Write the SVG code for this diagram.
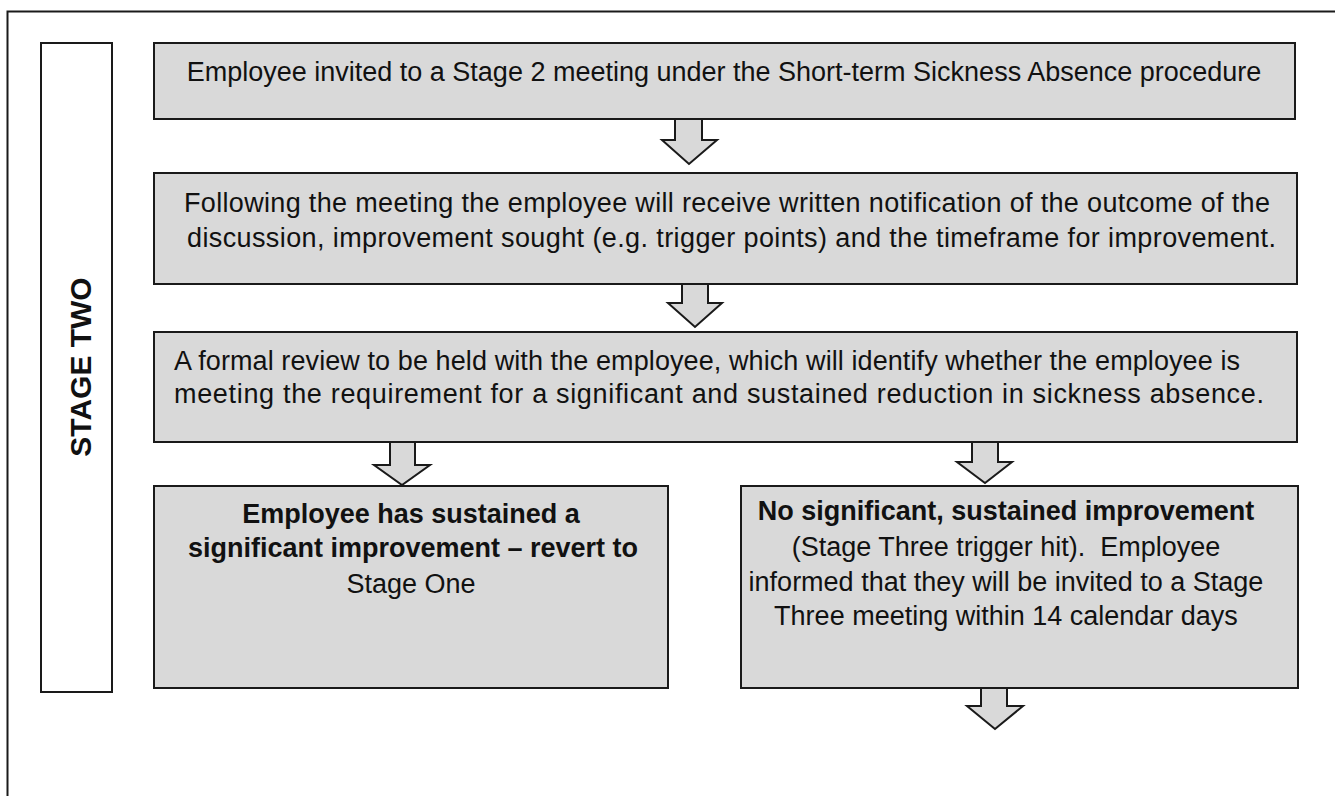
<svg xmlns="http://www.w3.org/2000/svg" width="1335" height="796" viewBox="0 0 1335 796">
<style>
.box{fill:#d9d9d9;stroke:#1a1a1a;stroke-width:2}
.frame{fill:none;stroke:#1a1a1a;stroke-width:2}
.arr{fill:#d9d9d9;stroke:#1a1a1a;stroke-width:2;stroke-linejoin:miter}
text{font-family:"Liberation Sans",Arial,sans-serif;font-size:27px;fill:#111}
.b{font-weight:bold}
.c{text-anchor:middle}
</style>
<rect width="1335" height="796" fill="#fff"/>
<rect class="frame" x="7.5" y="11.5" width="1400" height="900"/>
<g id="stage">
<rect class="frame" x="41" y="43" width="71" height="649"/>
<text class="b c" transform="translate(91,367) rotate(-90)" style="font-size:30px">STAGE TWO</text>
</g>
<g id="n1">
<rect class="box" x="154" y="43" width="1141" height="76"/>
<text class="c" x="724" y="81">Employee invited to a Stage 2 meeting under the Short-term Sickness Absence procedure</text>
</g>
<g id="n2">
<rect class="box" x="154" y="173" width="1143" height="111"/>
<text x="184" y="212" textLength="1086" lengthAdjust="spacing">Following the meeting the employee will receive written notification of the outcome of the</text>
<text x="187" y="247" textLength="1089" lengthAdjust="spacing">discussion, improvement sought (e.g. trigger points) and the timeframe for improvement.</text>
</g>
<g id="n3">
<rect class="box" x="154" y="332" width="1143" height="110"/>
<text x="174" y="370" textLength="1066" lengthAdjust="spacing">A formal review to be held with the employee, which will identify whether the employee is</text>
<text x="174" y="403" textLength="1090" lengthAdjust="spacing">meeting the requirement for a significant and sustained reduction in sickness absence.</text>
</g>
<g id="n4">
<rect class="box" x="154" y="486" width="514" height="202"/>
<text class="b c" x="411" y="523">Employee has sustained a</text>
<text class="b c" x="413" y="557">significant improvement – revert to</text>
<text class="c" x="411" y="593">Stage One</text>
</g>
<g id="n5">
<rect class="box" x="741" y="486" width="557" height="202"/>
<text class="b c" x="1006" y="520">No significant, sustained improvement</text>
<text class="c" x="1006" y="556">(Stage Three trigger hit).&#160; Employee</text>
<text class="c" x="1006" y="591">informed that they will be invited to a Stage</text>
<text class="c" x="1006" y="625">Three meeting within 14 calendar days</text>
</g>
<g id="connectors">
<polygon class="arr" points="675,119 675,140 662,140 689,164 717,140 702,140 702,119"/>
<polygon class="arr" points="682,284 682,303 668,303 695,327 722,303 708,303 708,284"/>
<polygon class="arr" points="390,442 390,465 374,465 402,485 430,465 415,465 415,442"/>
<polygon class="arr" points="972,442 972,462 957,462 985,483 1012,462 998,462 998,442"/>
<polygon class="arr" points="981,688 981,706 967,706 995,729 1023,706 1007,706 1007,688"/>
</g>
</svg>
